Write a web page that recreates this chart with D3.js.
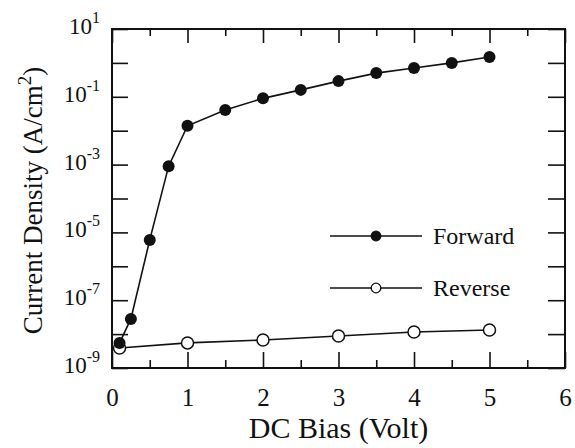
<!DOCTYPE html>
<html>
<head>
<meta charset="utf-8">
<script src="https://cdn.jsdelivr.net/npm/d3@7"></script>
<style>
  body { margin: 0; background: #fff; }
  text { font-family: "Liberation Serif", "DejaVu Serif", serif; fill: #111; }
</style>
</head>
<body>
<svg id="canvas" width="575" height="448"></svg>
<script>
// values
let forwardBias = [0.1, 0.25, 0.5, 0.75, 1.0, 1.5, 2.0, 2.5, 3.0, 3.5, 4.0, 4.5, 5.0]
let forwardCurrent = [5.5e-9, 2.8e-8, 6e-6, 9e-4, 1.4e-2, 4.1e-2, 9e-2, 1.6e-1, 2.9e-1, 5e-1, 7.1e-1, 1.0, 1.5]

let reverseBias = [0.1, 1, 2, 3, 4, 5]
let reverseCurrent = [3.9e-9, 5.5e-9, 6.7e-9, 8.8e-9, 1.15e-8, 1.32e-8]

let xTicks = [0, 1, 2, 3, 4, 5, 6]
let xMinorTicks = [0.5, 1.5, 2.5, 3.5, 4.5, 5.5]
let yExponents = [-9, -8, -7, -6, -5, -4, -3, -2, -1, 0, 1]
let yLabelExponents = [-9, -7, -5, -3, -1, 1]

let legendNames = ['Forward', 'Reverse']

let canvas = d3.select('#canvas')
let ink = '#111'

let plotLeft = 112, plotRight = 565, plotTop = 29, plotBottom = 368

let x = d3.scaleLinear().domain([0, 6]).range([plotLeft, plotRight])
let y = d3.scaleLog().domain([1e-9, 1e1]).range([plotBottom, plotTop])

let yTickValues = yExponents.map(e => Math.pow(10, e))

// frame
canvas.append('rect')
   .attr('x', plotLeft).attr('y', plotTop)
   .attr('width', plotRight - plotLeft).attr('height', plotBottom - plotTop)
   .attr('fill', 'none').attr('stroke', ink).attr('stroke-width', 2)

let styleAxis = (g) => {
    g.select('.domain').remove()
    g.selectAll('line').attr('stroke', ink).attr('stroke-width', 1.6)
}

// bottom axis, ticks pointing inward
canvas.append('g')
   .attr('transform', 'translate(0,' + plotBottom + ')')
   .call(d3.axisBottom(x).tickValues(xTicks).tickSize(-16).tickPadding(20).tickFormat(d3.format('d')))
   .call(styleAxis)
   .selectAll('text')
   .attr('font-size', 25)
   .style('font-family', '"Liberation Serif", serif')

canvas.append('g')
   .attr('transform', 'translate(0,' + plotBottom + ')')
   .call(d3.axisBottom(x).tickValues(xMinorTicks).tickSize(-8).tickFormat(''))
   .call(styleAxis)

// top axis
canvas.append('g')
   .attr('transform', 'translate(0,' + plotTop + ')')
   .call(d3.axisTop(x).tickValues(xTicks).tickSize(-14).tickFormat(''))
   .call(styleAxis)

canvas.append('g')
   .attr('transform', 'translate(0,' + plotTop + ')')
   .call(d3.axisTop(x).tickValues(xMinorTicks).tickSize(-7).tickFormat(''))
   .call(styleAxis)

// left axis
canvas.append('g')
   .attr('transform', 'translate(' + plotLeft + ',0)')
   .call(d3.axisLeft(y).tickValues(yTickValues).tickSize(-16).tickFormat(''))
   .call(styleAxis)

// right axis
canvas.append('g')
   .attr('transform', 'translate(' + plotRight + ',0)')
   .call(d3.axisRight(y).tickValues(yTickValues).tickSize(-17).tickFormat(''))
   .call(styleAxis)

// y labels with superscript exponents
let yLabels = canvas.append('g')
yLabelExponents.forEach((e) => {
    let t = yLabels.append('text')
       .attr('x', plotLeft - 12)
       .attr('y', y(Math.pow(10, e)) + 5)
       .attr('text-anchor', 'end')
       .attr('font-size', 23)
    t.append('tspan').text('10')
    t.append('tspan').attr('font-size', 16).attr('dy', -11).text(e < 0 ? '-' + Math.abs(e) : String(e))
})

// axis titles
canvas.append('text')
   .attr('x', (plotLeft + plotRight) / 2)
   .attr('y', 438)
   .attr('text-anchor', 'middle')
   .attr('font-size', 30)
   .text('DC Bias (Volt)')

let yTitle = canvas.append('text')
   .attr('transform', 'translate(42,' + ((plotTop + plotBottom) / 2 + 2) + ') rotate(-90)')
   .attr('text-anchor', 'middle')
   .attr('font-size', 27)
yTitle.append('tspan').text('Current Density (A/cm')
yTitle.append('tspan').attr('font-size', 19).attr('dy', -11).text('2')
yTitle.append('tspan').attr('dy', 11).text(')')

// series
let forward = forwardBias.map((v, i) => ({ v: v, j: forwardCurrent[i] }))
let reverse = reverseBias.map((v, i) => ({ v: v, j: reverseCurrent[i] }))

let line = d3.line().x(d => x(d.v)).y(d => y(d.j))

canvas.append('path')
   .datum(reverse)
   .attr('d', line)
   .attr('fill', 'none').attr('stroke', ink).attr('stroke-width', 1.6)

canvas.append('path')
   .datum(forward)
   .attr('d', line)
   .attr('fill', 'none').attr('stroke', ink).attr('stroke-width', 1.6)

canvas.selectAll('.rev')
   .data(reverse)
   .enter()
   .append('circle')
   .attr('class', 'rev')
   .attr('cx', d => x(d.v)).attr('cy', d => y(d.j))
   .attr('r', 6)
   .attr('fill', '#fff').attr('stroke', ink).attr('stroke-width', 1.5)

canvas.selectAll('.fwd')
   .data(forward)
   .enter()
   .append('circle')
   .attr('class', 'fwd')
   .attr('cx', d => x(d.v)).attr('cy', d => y(d.j))
   .attr('r', 6)
   .attr('fill', ink)

// legend
let legend = canvas.append('g')
legendNames.forEach((name, i) => {
    let ly = 236 + i * 52
    legend.append('line')
       .attr('x1', 330).attr('x2', 422)
       .attr('y1', ly).attr('y2', ly)
       .attr('stroke', ink).attr('stroke-width', 1.6)
    legend.append('circle')
       .attr('cx', 376).attr('cy', ly)
       .attr('r', 4.8)
       .attr('fill', i === 0 ? ink : '#fff')
       .attr('stroke', ink).attr('stroke-width', 1.3)
    legend.append('text')
       .attr('x', 433).attr('y', ly + 8)
       .attr('font-size', 24)
       .text(name)
})
</script>
</body>
</html>
